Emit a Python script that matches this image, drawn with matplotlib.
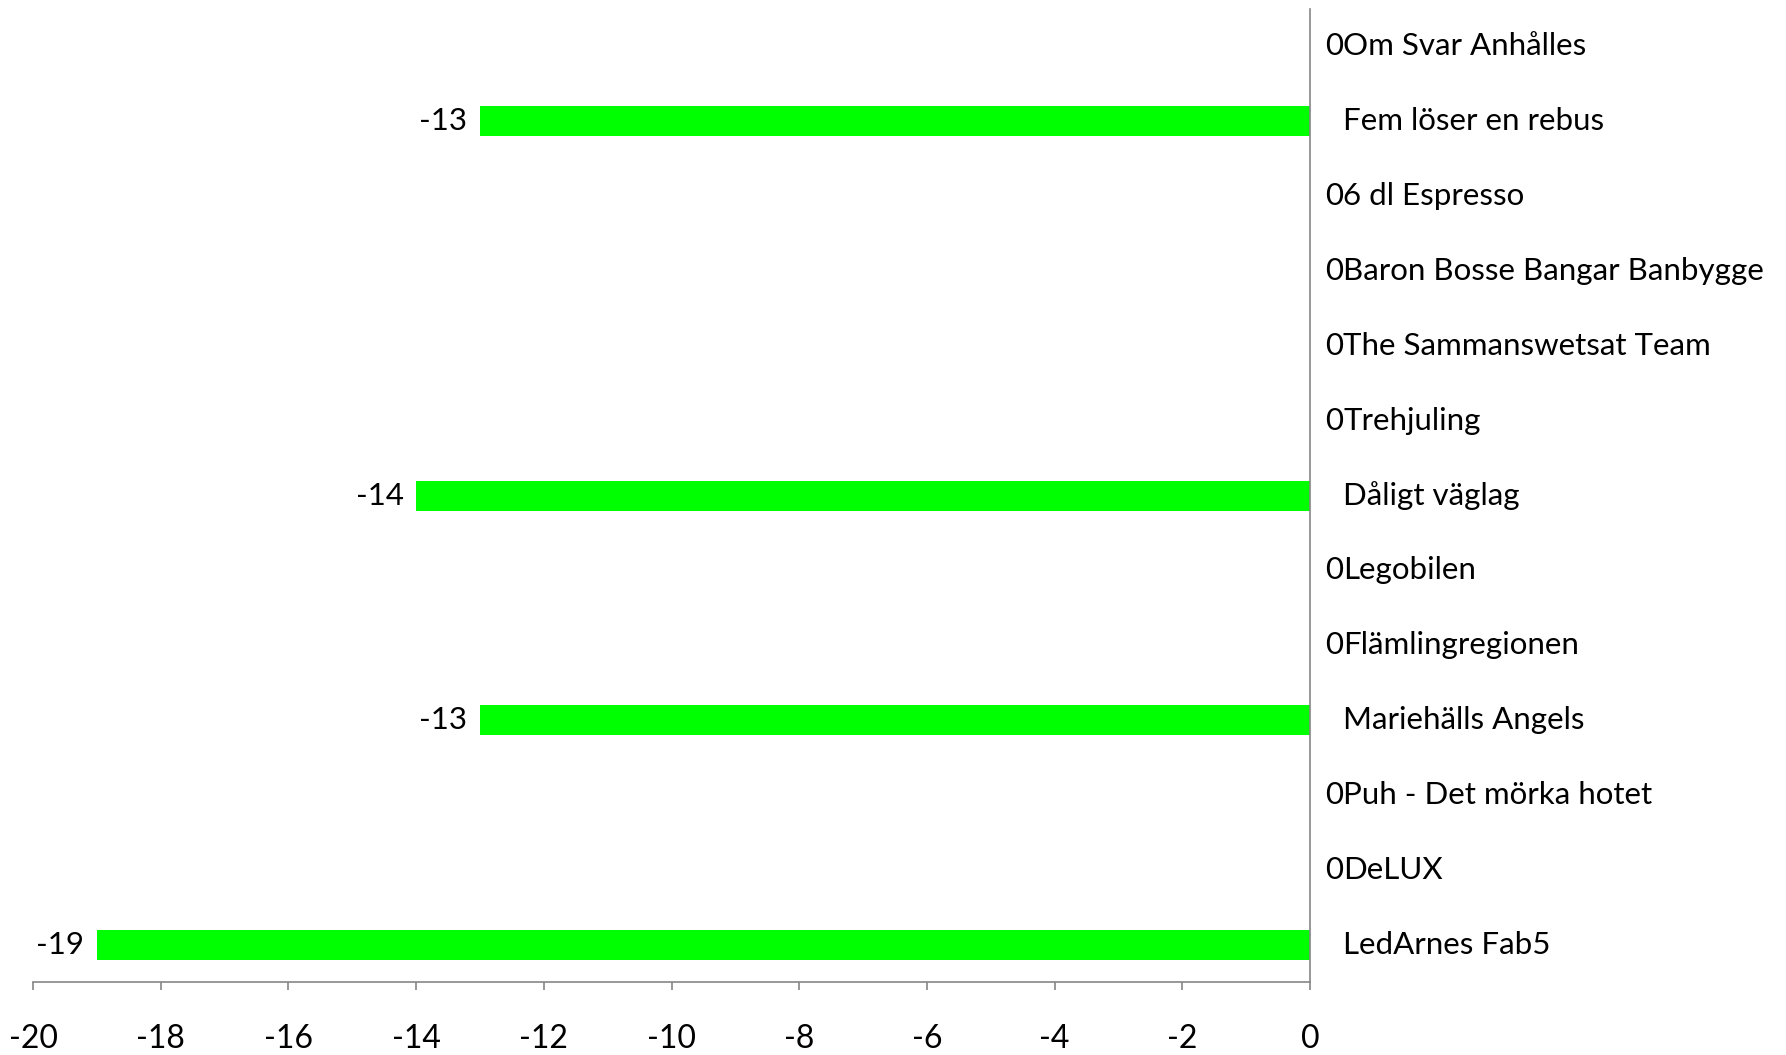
import numpy as np
from matplotlib import pyplot as plt

categories = ["Om Svar Anhålles", "Fem löser en rebus", "6 dl Espresso",
              "Baron Bosse Bangar Banbygge", "The Sammanswetsat Team", "Trehjuling",
              "Dåligt väglag", "Legobilen", "Flämlingregionen", "Mariehälls Angels",
              "Puh - Det mörka hotet", "DeLUX", "LedArnes Fab5"]
values = [0, -13, 0, 0, 0, 0, -14, 0, 0, -13, 0, 0, -19]
x_ticks = list(range(-20, 1, 2))

plt.rcParams['font.family'] = ['Lato', 'DejaVu Sans']
fig = plt.figure(figsize=(17.86, 10.55), dpi=100)
ax = fig.add_axes([0.0185, 0.069, 0.715, 0.9225])

pos = np.arange(len(categories))
ax.barh(pos, values, height=0.4, color='#00ff00')
ax.set_ylim(len(categories) - 0.5, -0.5)
ax.set_xlim(-20, 0)

grey = '#868686'
for s in ['top', 'left']:
    ax.spines[s].set_visible(False)
for s in ['right', 'bottom']:
    ax.spines[s].set_color(grey)
    ax.spines[s].set_linewidth(1.2)
ax.set_xticks(x_ticks)
ax.set_xticklabels([str(t) for t in x_ticks])
ax.tick_params(axis='x', direction='out', length=6, width=1.2, color=grey,
               labelsize=23, pad=24)
ax.set_yticks([])

# category names and value labels
fs = 22.5
for y, (name, v) in enumerate(zip(categories, values)):
    ax.annotate(name, (0, y), xytext=(24, 0), textcoords='offset points',
                ha='left', va='center', fontsize=fs, annotation_clip=False)
    if v == 0:
        ax.annotate('0', (0, y), xytext=(24, 0), textcoords='offset points',
                    ha='right', va='center', fontsize=fs, annotation_clip=False)
    else:
        ax.annotate(str(v), (v, y), xytext=(-9, 0), textcoords='offset points',
                    ha='right', va='center', fontsize=fs, annotation_clip=False)

fig.savefig('out.png', dpi=100)
